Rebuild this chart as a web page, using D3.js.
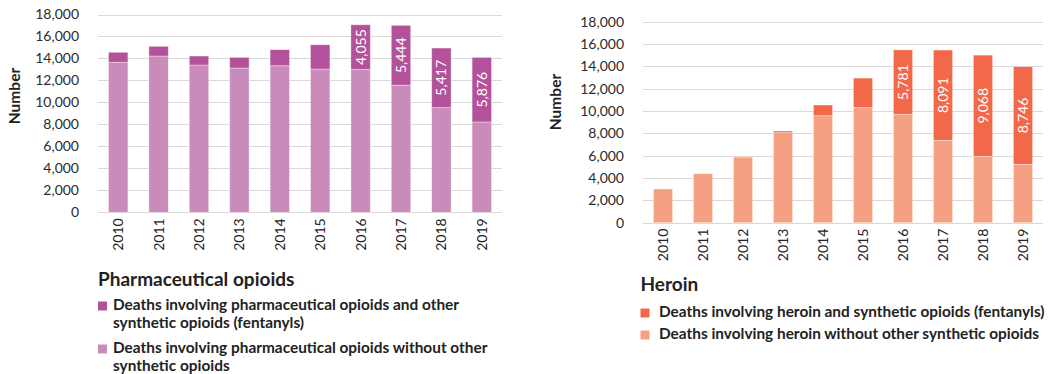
<!DOCTYPE html>
<html>
<head>
<meta charset="utf-8">
<script src="https://cdn.jsdelivr.net/npm/d3@7"></script>
<style>
  body { margin: 0; background: #fff; }
  svg { display: block; font-family: Lato, "Open Sans", sans-serif; }
</style>
</head>
<body>
<svg width="1052" height="374"></svg>
<script>
// values
var years = ['2010', '2011', '2012', '2013', '2014', '2015', '2016', '2017', '2018', '2019'];
var yTicks = [0, 2000, 4000, 6000, 8000, 10000, 12000, 14000, 16000, 18000];

var pharmaFent  = [910, 880, 820, 970, 1460, 2210, 4055, 5444, 5417, 5876];
var pharmaOther = [13650, 14220, 13400, 13130, 13340, 13040, 13010, 11570, 9530, 8220];
var heroinFent  = [0, 0, 30, 150, 960, 2650, 5781, 8091, 9068, 8746];
var heroinOther = [3020, 4390, 5880, 8060, 9580, 10300, 9700, 7370, 5940, 5230];

// only the big fentanyl segments get a number on them
var labelYears = ['2016', '2017', '2018', '2019'];

var svg = d3.select('svg');
var fmt = d3.format(',');

var drawChart = function(opt) {
  var x = d3.scaleBand().domain(years).range([opt.left, opt.right]).paddingInner(0.52).paddingOuter(0.26);
  var y = d3.scaleLinear().domain([0, 18000]).range([opt.bottom, opt.top]);
  var g = svg.append('g');

  // gridlines
  g.selectAll('line.grid')
    .data(yTicks)
    .enter()
    .append('line')
    .attr('x1', opt.left).attr('x2', opt.right)
    .attr('y1', function(d) { return Math.round(y(d)) + 0.5; })
    .attr('y2', function(d) { return Math.round(y(d)) + 0.5; })
    .attr('stroke', '#d9d9d9')
    .attr('stroke-width', 1);

  var yAxis = g.append('g')
    .attr('transform', 'translate(' + (opt.left - 16) + ',0)')
    .call(d3.axisLeft(y).tickValues(yTicks).tickFormat(fmt).tickSize(0));
  yAxis.select('.domain').remove();
  yAxis.selectAll('text').attr('font-size', 14).attr('fill', '#2b2b2b').attr('font-family', 'Lato');

  var rows = years.map(function(yr, i) {
    return { year: yr, other: opt.other[i], fent: opt.fent[i] };
  });
  var stacked = d3.stack().keys(['other', 'fent'])(rows);
  var colors = { other: opt.light, fent: opt.dark };

  g.selectAll('g.layer')
    .data(stacked)
    .enter()
    .append('g')
    .attr('fill', function(d) { return colors[d.key]; })
    .selectAll('rect')
    .data(function(d) { return d; })
    .enter()
    .append('rect')
    .attr('x', function(d) { return x(d.data.year); })
    .attr('width', x.bandwidth())
    .attr('y', function(d) { return y(d[1]); })
    .attr('height', function(d) { return Math.max(0, y(d[0]) - y(d[1])); })
    .attr('stroke', '#fff')
    .attr('stroke-opacity', 0.45)
    .attr('stroke-width', 0.8);

  // numbers inside the fentanyl segments
  var top = stacked[1];
  g.selectAll('text.val')
    .data(top.filter(function(d) { return labelYears.indexOf(d.data.year) >= 0; }))
    .enter()
    .append('text')
    .attr('transform', function(d) {
      var cx = x(d.data.year) + x.bandwidth() / 2;
      var cy = (y(d[0]) + y(d[1])) / 2;
      return 'translate(' + cx + ',' + cy + ') rotate(-90)';
    })
    .attr('text-anchor', 'middle')
    .attr('dy', '0.35em')
    .attr('font-size', 14)
    .attr('fill', '#fff')
    .text(function(d) { return fmt(d.data.fent); });

  var xAxis = g.append('g')
    .attr('transform', 'translate(0,' + opt.bottom + ')')
    .call(d3.axisBottom(x).tickSize(0).tickPadding(0));
  xAxis.select('.domain').remove();
  xAxis.selectAll('text')
    .attr('font-size', 14)
    .attr('font-family', 'Lato')
    .attr('fill', '#222')
    .attr('transform', 'rotate(-90)')
    .attr('text-anchor', 'end')
    .attr('x', -6)
    .attr('y', 0)
    .attr('dy', '0.35em');

  g.append('text')
    .attr('transform', 'translate(' + opt.numX + ',' + opt.numY + ') rotate(-90)')
    .attr('text-anchor', 'middle')
    .attr('dy', '0.35em')
    .attr('font-size', 15.5)
    .attr('font-weight', 'bold')
    .attr('fill', '#222')
    .text('Number');

  // legend
  var lg = svg.append('g');
  lg.append('text')
    .attr('x', opt.legX).attr('y', opt.titleY)
    .attr('font-size', 19).attr('font-weight', 'bold').attr('fill', '#222')
    .text(opt.title);
  opt.legend.forEach(function(item, i) {
    lg.append('rect')
      .attr('x', opt.legX).attr('y', item.y - 8.5)
      .attr('width', 9).attr('height', 9)
      .attr('fill', item.color);
    item.lines.forEach(function(line, j) {
      lg.append('text')
        .attr('x', opt.legX + opt.legIndent)
        .attr('y', item.y + j * 18)
        .attr('font-size', 15.4).attr('font-weight', 'bold').attr('fill', '#222')
        .text(line);
    });
  });
};

drawChart({
  left: 98, right: 502, top: 14.5, bottom: 212.3,
  other: pharmaOther, fent: pharmaFent,
  light: '#c98bb9', dark: '#b3529a',
  numX: 15, numY: 96,
  title: 'Pharmaceutical opioids', legX: 98, titleY: 286, legIndent: 15,
  legend: [
    { color: '#b3529a', y: 310, lines: ['Deaths involving pharmaceutical opioids and other', 'synthetic opioids (fentanyls)'] },
    { color: '#c98bb9', y: 353, lines: ['Deaths involving pharmaceutical opioids without other', 'synthetic opioids'] }
  ]
});

drawChart({
  left: 643, right: 1043, top: 21.7, bottom: 222.7,
  other: heroinOther, fent: heroinFent,
  light: '#f5a083', dark: '#f2694a',
  numX: 556, numY: 102,
  title: 'Heroin', legX: 640.5, titleY: 291, legIndent: 18.5,
  legend: [
    { color: '#f2694a', y: 317, lines: ['Deaths involving heroin and synthetic opioids (fentanyls)'] },
    { color: '#f5a083', y: 339, lines: ['Deaths involving heroin without other synthetic opioids'] }
  ]
});
</script>
</body>
</html>
